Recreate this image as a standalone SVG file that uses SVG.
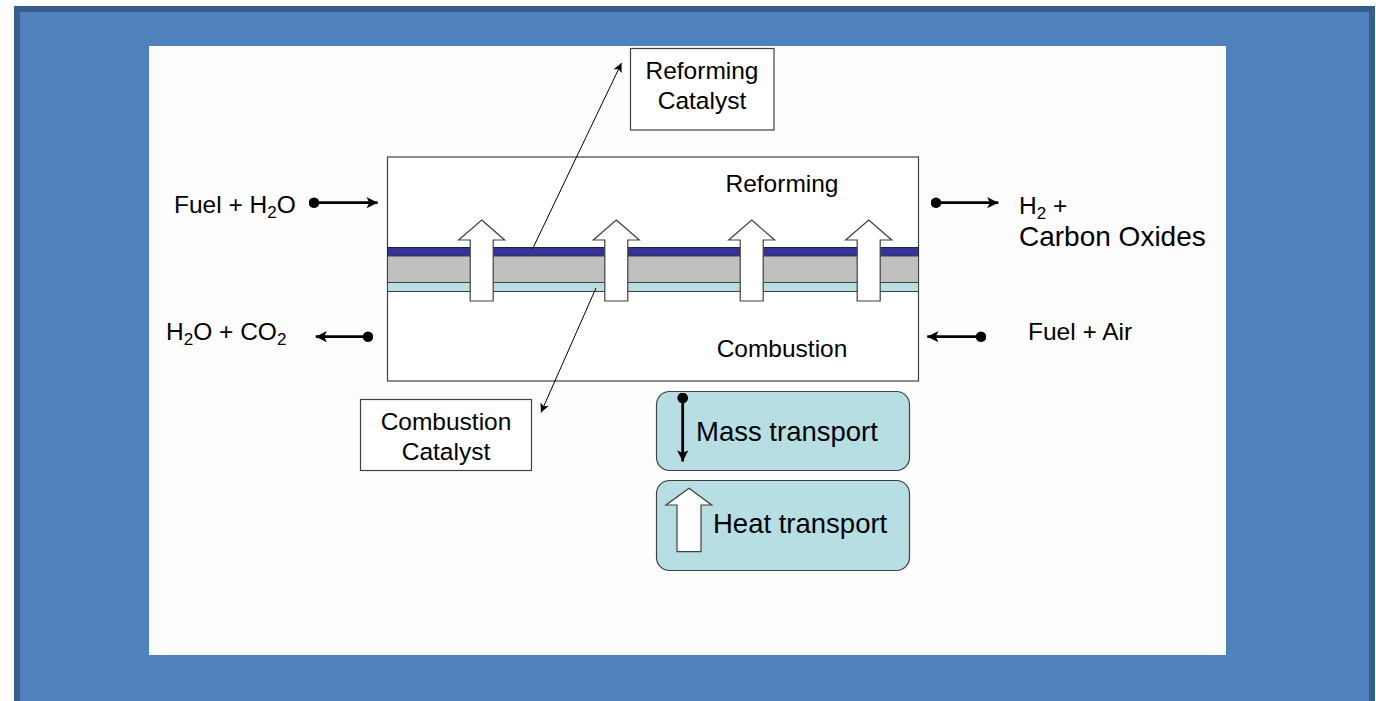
<svg xmlns="http://www.w3.org/2000/svg" width="1376" height="701" viewBox="0 0 1376 701">
<style>
  text { font-family: "Liberation Sans", Arial, sans-serif; fill: #000; }
  .lbl { font-size: 24.5px; }
  .big { font-size: 28px; }
  .leg { font-size: 27.5px; }
  .sub { font-size: 17px; }
  .box { fill: #fff; stroke: #404040; stroke-width: 1.2; }
  .legend { fill: #b7dfe3; stroke: #404040; stroke-width: 1.2; }
  .flow { stroke: #000; stroke-width: 2.8; fill: none; }
  .leader { stroke: #000; stroke-width: 1; fill: none; }
  .heat { fill: #fff; stroke: #404040; stroke-width: 1.2; }
</style>
<defs>
  <marker id="arrowFlow" viewBox="0 0 10 10" refX="10" refY="5" markerWidth="4.6" markerHeight="4" markerUnits="strokeWidth" orient="auto">
    <path d="M0,0 L10,5 L0,10 L2.5,5 Z" fill="#000"/>
  </marker>
  <marker id="dotFlow" viewBox="0 0 10 10" refX="5" refY="5" markerWidth="3.8" markerHeight="3.8" markerUnits="strokeWidth" orient="auto">
    <circle cx="5" cy="5" r="5" fill="#000"/>
  </marker>
  <marker id="arrowLeader" viewBox="0 0 10 10" refX="10" refY="5" markerWidth="10" markerHeight="9" markerUnits="strokeWidth" orient="auto">
    <path d="M0,0 L10,5 L0,10 L2.5,5 Z" fill="#000"/>
  </marker>
  <path id="blockArrow" d="M0,0 L23,20 L11.5,20 L11.5,81 L-11.5,81 L-11.5,20 L-23,20 Z"/>
</defs>

<g id="background">
  <rect x="0" y="0" width="1376" height="701" fill="#ffffff"/>
  <rect x="17" y="9" width="1355" height="700" fill="#4f81bd" stroke="#385d8a" stroke-width="6"/>
  <rect x="149" y="46" width="1077" height="609" fill="#fdfdfd"/>
</g>

<g id="reactor">
  <rect x="387.5" y="157" width="531" height="224" class="box"/>
  <rect x="387.5" y="247.5" width="531" height="8.5" fill="#333399" stroke="#202040" stroke-width="1"/>
  <rect x="387.5" y="256" width="531" height="26.5" fill="#c0c0c0" stroke="#404040" stroke-width="1"/>
  <rect x="387.5" y="282.5" width="531" height="9" fill="#b7dfe3" stroke="#404040" stroke-width="1"/>
  <text x="782" y="192" class="lbl" text-anchor="middle">Reforming</text>
  <text x="782" y="357" class="lbl" text-anchor="middle">Combustion</text>
</g>

<g id="heat-arrows">
  <use href="#blockArrow" class="heat" transform="translate(481.7,220)"/>
  <use href="#blockArrow" class="heat" transform="translate(616.3,220)"/>
  <use href="#blockArrow" class="heat" transform="translate(751.7,220)"/>
  <use href="#blockArrow" class="heat" transform="translate(868.7,220)"/>
</g>

<g id="reforming-catalyst">
  <rect x="630.5" y="48.5" width="143.5" height="81.5" class="box"/>
  <text x="702" y="79" class="lbl" text-anchor="middle">Reforming</text>
  <text x="702" y="109" class="lbl" text-anchor="middle">Catalyst</text>
</g>

<g id="combustion-catalyst">
  <rect x="360.5" y="399.5" width="171" height="71" class="box"/>
  <text x="446" y="430" class="lbl" text-anchor="middle">Combustion</text>
  <text x="446" y="460" class="lbl" text-anchor="middle">Catalyst</text>
</g>

<g id="label-fuel-h2o">
  <text x="174" y="213" class="lbl">Fuel + H<tspan class="sub" dy="5">2</tspan><tspan dy="-5">O</tspan></text>
</g>
<g id="label-h2o-co2">
  <text x="166" y="339.5" class="lbl">H<tspan class="sub" dy="5">2</tspan><tspan dy="-5">O + CO</tspan><tspan class="sub" dy="5">2</tspan></text>
</g>
<g id="label-h2-carbon">
  <text x="1019" y="213.5" class="lbl">H<tspan class="sub" dy="5">2</tspan><tspan dy="-5"> +</tspan></text>
  <text x="1019" y="246" class="big">Carbon Oxides</text>
</g>
<g id="label-fuel-air">
  <text x="1028" y="339.5" class="lbl">Fuel + Air</text>
</g>

<g id="legend-mass">
  <rect x="656.5" y="391.5" width="253" height="79" rx="13" class="legend"/>
  <line x1="682.7" y1="398" x2="682.7" y2="461.5" class="flow" marker-start="url(#dotFlow)" marker-end="url(#arrowFlow)"/>
  <text x="696" y="441" class="leg">Mass transport</text>
</g>

<g id="legend-heat">
  <rect x="656.5" y="480.5" width="253" height="90" rx="13" class="legend"/>
  <path d="M689,488.3 L711.7,505 L701,505 L701,551.7 L677,551.7 L677,505 L666,505 Z" class="heat"/>
  <text x="713" y="532.5" class="leg">Heat transport</text>
</g>

<g id="connectors">
  <line x1="314" y1="202.7" x2="377.7" y2="202.7" class="flow" marker-start="url(#dotFlow)" marker-end="url(#arrowFlow)"/>
  <line x1="368" y1="336.7" x2="315.7" y2="336.7" class="flow" marker-start="url(#dotFlow)" marker-end="url(#arrowFlow)"/>
  <line x1="936" y1="202.7" x2="998.3" y2="202.7" class="flow" marker-start="url(#dotFlow)" marker-end="url(#arrowFlow)"/>
  <line x1="981" y1="336.7" x2="927.3" y2="336.7" class="flow" marker-start="url(#dotFlow)" marker-end="url(#arrowFlow)"/>
  <line x1="532.5" y1="249" x2="621.5" y2="63" class="leader" marker-end="url(#arrowLeader)"/>
  <line x1="596" y1="288" x2="541" y2="412.5" class="leader" marker-end="url(#arrowLeader)"/>
</g>
</svg>
